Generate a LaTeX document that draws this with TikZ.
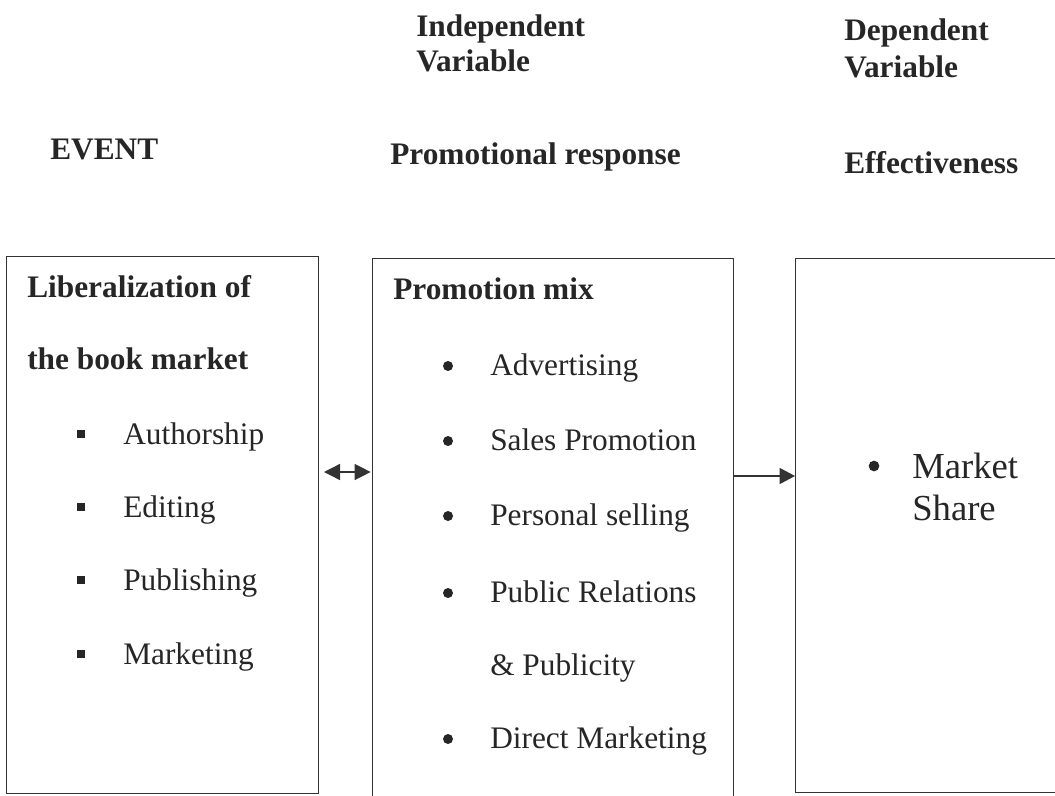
\documentclass[tikz,border=0pt]{standalone}
\usepackage{fontspec}
\setmainfont{Liberation Serif}
\usetikzlibrary{arrows.meta}

\tikzset{
  box/.style={draw=black!80, line width=1pt, anchor=north west, inner sep=0pt},
  head/.style={anchor=base west, inner sep=0.75pt, text=black!85, font=\bfseries\fontsize{23.5}{28}\selectfont},
  item/.style={anchor=base west, inner sep=0.75pt, text=black!85, font=\fontsize{23.5}{28}\selectfont},
  bigitem/.style={item, font=\fontsize{27.5}{31.5}\selectfont},
  sqbul/.style={fill=black!85, minimum size=5.5pt, inner sep=0pt},
  rdbul/.style={circle, fill=black!85, minimum size=7.5pt, inner sep=0pt},
  link/.style={draw=black!80, line width=1pt}
}

\begin{document}
\begin{tikzpicture}[x=0.75pt,y=0.75pt,yscale=-1,xscale=1]
\useasboundingbox (0,0) rectangle (1055,795);
\clip (0,0) rectangle (1055,795);

% Text Node
\node [head] (indep) at (415,37) {Independent};
\node [head] (indepv) at (415,72) {Variable};
% Text Node
\node [head] (dep) at (843,41) {Dependent};
\node [head] (depv) at (843,78) {Variable};
% Text Node
\node [head] (event) at (49,159) {EVENT};
% Text Node
\node [head] (resp) at (389,165) {Promotional response};
% Text Node
\node [head] (effect) at (843,173) {Effectiveness};

%Shape: Rectangle
\node [box, minimum width=234pt, minimum height=402.75pt] (evbox) at (6,256) {};
%Shape: Rectangle
\node [box, minimum width=270.75pt, minimum height=410.25pt] (prbox) at (372,258) {};
%Shape: Rectangle
\node [box, minimum width=202.5pt, minimum height=400.5pt] (efbox) at (795,258) {};

% Text Node
\node [head] (lib) at (26,297) {Liberalization of};
\node [head] (lib2) at (26,369) {the book market};
% Text Node
\node [sqbul] (s1) at (81,434) {};
\node [item] (auth) at (122,444) {Authorship};
\node [sqbul] (s2) at (81,507) {};
\node [item] (edit) at (122,517) {Editing};
\node [sqbul] (s3) at (81,580) {};
\node [item] (publ) at (122,590) {Publishing};
\node [sqbul] (s4) at (81,654) {};
\node [item] (mark) at (122,664) {Marketing};

% Text Node
\node [head] (mix) at (392,299) {Promotion mix};
% Text Node
\node [rdbul] (r1) at (448,366) {};
\node [item] (adv) at (489,375) {Advertising};
\node [rdbul] (r2) at (448,441) {};
\node [item] (sales) at (489,450) {Sales Promotion};
\node [rdbul] (r3) at (448,516) {};
\node [item] (pers) at (489,525) {Personal selling};
\node [rdbul] (r4) at (448,593) {};
\node [item] (pubrel) at (489,602) {Public Relations};
\node [item] (pubrel2) at (489,675) {\& Publicity};
\node [rdbul] (r5) at (448,739) {};
\node [item] (direct) at (489,748) {Direct Marketing};

% Text Node
\node [rdbul, minimum size=8pt] (m1) at (874,466) {};
\node [bigitem] (share1) at (911,478) {Market};
\node [bigitem] (share2) at (911,520) {Share};

%Straight Lines
\coordinate (dbl) at (345,472);
\draw [link, {Triangle[length=12pt,width=12pt]}-{Triangle[length=12pt,width=12pt]}, shorten <=3.5pt, shorten >=1pt] (dbl -| evbox.east) -- (dbl -| prbox.west);
%Straight Lines
\coordinate (fwd) at (760,476);
\draw [link, -{Triangle[length=11.5pt,width=12pt]}] (fwd -| prbox.east) -- (fwd -| efbox.west);

\end{tikzpicture}
\end{document}
